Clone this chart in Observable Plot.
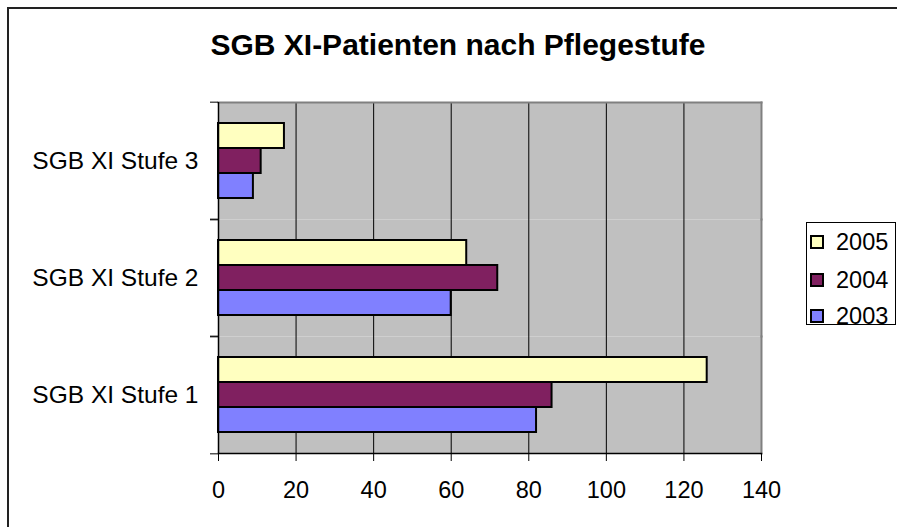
<!DOCTYPE html>
<html>
<head>
<meta charset="utf-8">
<script src="https://cdn.jsdelivr.net/npm/d3@7"></script>
<script src="https://cdn.jsdelivr.net/npm/@observablehq/plot@0.6"></script>
<style>
  html, body { margin: 0; padding: 0; background: #fff; }
  #wrap { position: relative; width: 897px; height: 527px; overflow: hidden; font-family: "Liberation Sans", Arial, sans-serif; }
  #border { position: absolute; left: 7px; top: 7px; width: 1000px; height: 1000px; border-left: 2px solid #222; border-top: 2px solid #222; box-sizing: border-box; }
  #title { position: absolute; left: 0; top: 30px; width: 916px; text-align: center; font-weight: bold; font-size: 30px; line-height: 29px; color: #000; }
  #chart { position: absolute; left: 0; top: 0; }
  #legend { position: absolute; left: 806px; top: 222px; width: 90px; height: 103px; border: 1px solid #000; box-sizing: border-box; background: #fff; }
  .item { position: absolute; left: 0; height: 24px; font-size: 23.5px; line-height: 24px; color: #000; }
  .sw { position: absolute; left: 3px; top: 5px; width: 14px; height: 14px; border: 2px solid #000; box-sizing: border-box; }
  .lbl { position: absolute; left: 29px; top: 0; white-space: nowrap; }
</style>
</head>
<body>
<div id="wrap">
  <div id="border"></div>
  <div id="chart"></div>
  <div id="title"></div>
  <div id="legend"></div>
</div>
<script>
const title = "SGB XI-Patienten nach Pflegestufe";
const categories = ["SGB XI Stufe 3", "SGB XI Stufe 2", "SGB XI Stufe 1"];
const years = ["2005", "2004", "2003"];
const values2005 = [17, 64, 126];
const values2004 = [11, 72, 86];
const values2003 = [9, 60, 82];
const colors = ["#FFFFC0", "#802060", "#8080FF"];
const xTicks = [0, 20, 40, 60, 80, 100, 120, 140];
const gridTicks = [20, 40, 60, 80, 100, 120];

const series = [values2005, values2004, values2003];
const data = [];
categories.forEach((c, i) => {
  years.forEach((y, j) => data.push({cat: c, year: y, value: series[j][i]}));
});

document.getElementById("title").textContent = title;

const halfStep = (527 - 101 - 73) / categories.length / 2;

const chart = Plot.plot({
  width: 897,
  height: 527,
  marginLeft: 218,
  marginRight: 136,
  marginTop: 101,
  marginBottom: 73,
  style: {fontFamily: "'Liberation Sans', Arial, sans-serif", fontSize: "23px", color: "#000", background: "transparent", overflow: "visible"},
  x: {domain: [0, 140]},
  y: {domain: years, paddingInner: 0, paddingOuter: 0.763, axis: null},
  fy: {domain: categories, padding: 0, label: null},
  color: {domain: years, range: colors},
  marks: [
    Plot.frame({fill: "#c0c0c0", stroke: null}),
    Plot.ruleX(gridTicks, {stroke: "#000", strokeWidth: 1}),
    Plot.frame({anchor: "right", stroke: "#808080", strokeWidth: 2}),
    Plot.frame({anchor: "top", stroke: "#808080", strokeWidth: 2, facetAnchor: "top"}),
    Plot.barX(data, {fy: "cat", y: "year", x: "value", fill: "year", stroke: "#000", strokeWidth: 2}),
    Plot.ruleX([0], {stroke: "#000", strokeWidth: 1.5}),
    Plot.frame({anchor: "bottom", stroke: "#000", strokeWidth: 1.5, facetAnchor: "bottom"}),
    Plot.axisX({anchor: "bottom", ticks: xTicks, tickSize: 8, tickPadding: 20, tickFormat: d => String(d), label: null, stroke: "#000", fontSize: 23.5}),
    Plot.axisFy({anchor: "left", tickSize: 0, tickPadding: 20, label: null, fontSize: 24.5}),
    Plot.axisFy({anchor: "left", tickSize: 8, tickFormat: () => "", label: null, dy: -halfStep}),
    Plot.axisFy({anchor: "left", tickSize: 8, tickFormat: () => "", label: null, dy: halfStep})
  ]
});
document.getElementById("chart").appendChild(chart);

const legend = document.getElementById("legend");
const legendTops = [7, 45, 81];
years.forEach((y, j) => {
  const item = document.createElement("div");
  item.className = "item";
  item.style.top = legendTops[j] + "px";
  const sw = document.createElement("div");
  sw.className = "sw";
  sw.style.background = colors[j];
  const lbl = document.createElement("div");
  lbl.className = "lbl";
  lbl.textContent = y;
  item.appendChild(sw);
  item.appendChild(lbl);
  legend.appendChild(item);
});
</script>
</body>
</html>
